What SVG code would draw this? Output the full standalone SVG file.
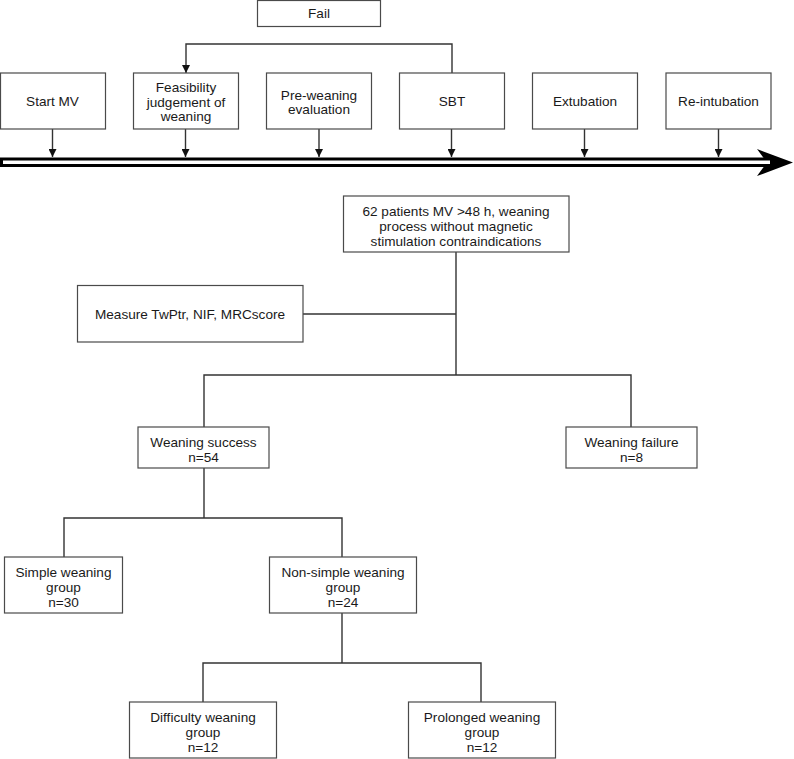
<svg xmlns="http://www.w3.org/2000/svg" width="794" height="759" viewBox="0 0 794 759">
<defs>
<style>
.box{fill:#fff;stroke:#4a4a4a;stroke-width:1.2}
.t{font-family:"Liberation Sans",Arial,sans-serif;font-size:13.6px;fill:#1a1a1a;text-anchor:middle}
.ln{fill:none;stroke:#333;stroke-width:1.4}
</style>
<marker id="ah" viewBox="0 0 10 10" refX="10" refY="5" markerUnits="userSpaceOnUse" markerWidth="11" markerHeight="8" orient="auto">
<path d="M0,0 L10,5 L0,10 z" fill="#111"/>
</marker>
</defs>
<rect width="794" height="759" fill="#fff"/>

<g id="connectors">
<path class="ln" d="M452,73 V44 H186 V73" marker-end="url(#ah)"/>
<line class="ln" x1="52.5" y1="129" x2="52.5" y2="157" marker-end="url(#ah)"/>
<line class="ln" x1="185.5" y1="129" x2="185.5" y2="157" marker-end="url(#ah)"/>
<line class="ln" x1="319" y1="129" x2="319" y2="157" marker-end="url(#ah)"/>
<line class="ln" x1="451.5" y1="129" x2="451.5" y2="157" marker-end="url(#ah)"/>
<line class="ln" x1="584.5" y1="129" x2="584.5" y2="157" marker-end="url(#ah)"/>
<line class="ln" x1="718.5" y1="129" x2="718.5" y2="157" marker-end="url(#ah)"/>
<path class="ln" d="M456,252 V375"/>
<path class="ln" d="M303,314 H456"/>
<path class="ln" d="M204,427 V375 H631 V427"/>
<path class="ln" d="M204,468 V518"/>
<path class="ln" d="M64,557 V518 H342 V557"/>
<path class="ln" d="M342,613 V663"/>
<path class="ln" d="M203,702 V663 H481 V702"/>
</g>

<g id="timeline">
<polygon points="757,149 793,162.5 757,176 767,162.5" fill="#000"/>
<rect x="1.5" y="159" width="770" height="6.5" fill="#fff" stroke="#000" stroke-width="3"/>
</g>

<g id="fail">
<rect class="box" x="257.5" y="0.5" width="123" height="26"/>
<text class="t" x="319" y="18">Fail</text>
</g>
<g id="start-mv">
<rect class="box" x="0.5" y="73" width="105" height="56"/>
<text class="t" x="52.5" y="106">Start MV</text>
</g>
<g id="feasibility">
<rect class="box" x="133.5" y="73" width="105" height="56"/>
<text class="t" x="186" y="92">Feasibility</text>
<text class="t" x="186" y="106.5">judgement of</text>
<text class="t" x="186" y="121">weaning</text>
</g>
<g id="pre-weaning">
<rect class="box" x="266.5" y="73" width="105" height="56"/>
<text class="t" x="319" y="99.5">Pre-weaning</text>
<text class="t" x="319" y="114">evaluation</text>
</g>
<g id="sbt">
<rect class="box" x="399.5" y="73" width="105" height="56"/>
<text class="t" x="452" y="106">SBT</text>
</g>
<g id="extubation">
<rect class="box" x="532.5" y="73" width="105" height="56"/>
<text class="t" x="585" y="106">Extubation</text>
</g>
<g id="re-intubation">
<rect class="box" x="666" y="73" width="105" height="56"/>
<text class="t" x="718.5" y="106">Re-intubation</text>
</g>

<g id="patients">
<rect class="box" x="343.5" y="196" width="225.5" height="56"/>
<text class="t" x="456" y="215.5">62 patients MV &gt;48 h, weaning</text>
<text class="t" x="456" y="230.5">process without magnetic</text>
<text class="t" x="456" y="245.5">stimulation contraindications</text>
</g>
<g id="measure">
<rect class="box" x="77.5" y="285.5" width="225.5" height="56.5"/>
<text class="t" x="190" y="318.5">Measure TwPtr, NIF, MRCscore</text>
</g>
<g id="weaning-success">
<rect class="box" x="138" y="427" width="131" height="41"/>
<text class="t" x="203.5" y="446.5">Weaning success</text>
<text class="t" x="203.5" y="461.5">n=54</text>
</g>
<g id="weaning-failure">
<rect class="box" x="566" y="427" width="131" height="41"/>
<text class="t" x="631.5" y="446.5">Weaning failure</text>
<text class="t" x="631.5" y="461.5">n=8</text>
</g>
<g id="simple">
<rect class="box" x="4.5" y="557" width="118" height="56"/>
<text class="t" x="63.5" y="576.5">Simple weaning</text>
<text class="t" x="63.5" y="591.5">group</text>
<text class="t" x="63.5" y="606.5">n=30</text>
</g>
<g id="non-simple">
<rect class="box" x="269.5" y="557" width="147" height="56"/>
<text class="t" x="343" y="576.5">Non-simple weaning</text>
<text class="t" x="343" y="591.5">group</text>
<text class="t" x="343" y="606.5">n=24</text>
</g>
<g id="difficulty">
<rect class="box" x="129.5" y="702" width="147" height="56"/>
<text class="t" x="203" y="721.5">Difficulty weaning</text>
<text class="t" x="203" y="736.5">group</text>
<text class="t" x="203" y="751.5">n=12</text>
</g>
<g id="prolonged">
<rect class="box" x="408.5" y="702" width="147" height="56"/>
<text class="t" x="482" y="721.5">Prolonged weaning</text>
<text class="t" x="482" y="736.5">group</text>
<text class="t" x="482" y="751.5">n=12</text>
</g>
</svg>
